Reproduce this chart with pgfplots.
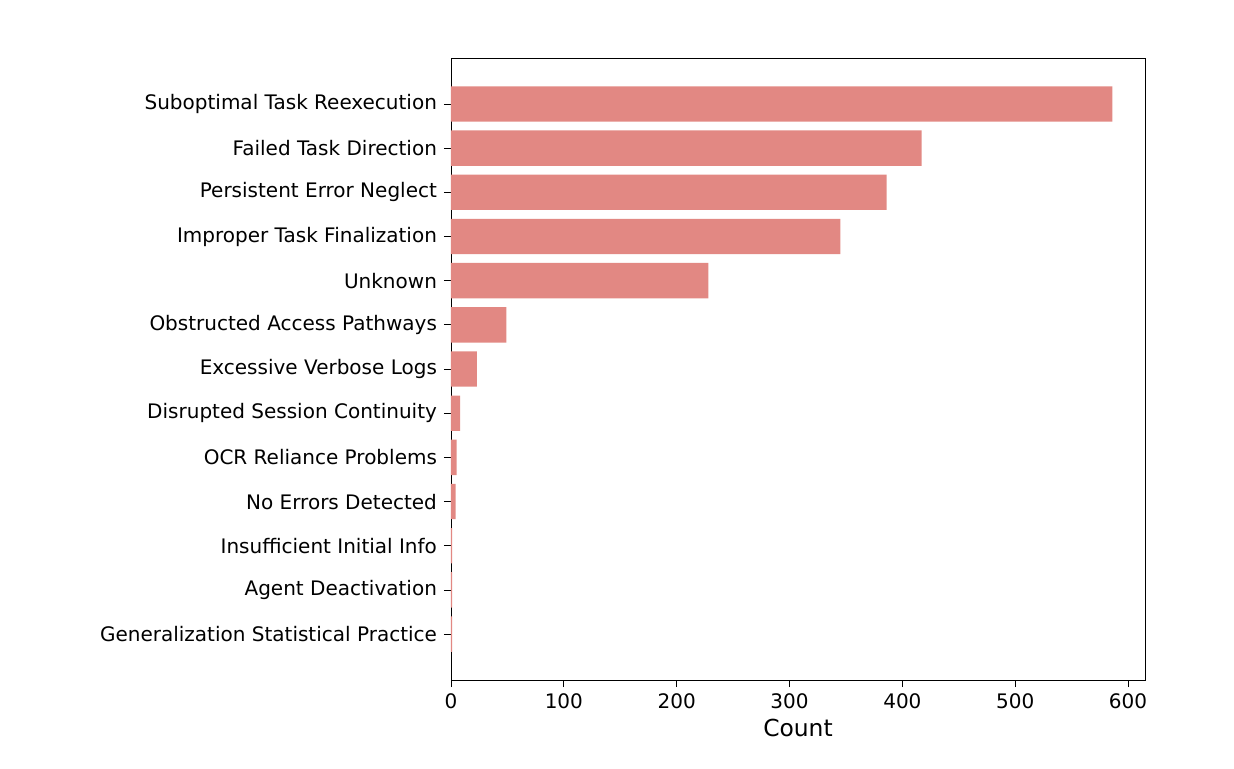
\documentclass[border=0pt]{standalone}
\usepackage{pgfplots}
\pgfplotsset{compat=1.18}
\usepackage{fontspec}
\setmainfont{DejaVu Sans}
\definecolor{barc}{RGB}{226,136,131}
\begin{document}
\begin{tikzpicture}
\begin{axis}[
  scale only axis,
  width=347pt, height=311pt,
  xbar, bar width=0.8,
  xmin=0, xmax=615,
  ymin=-1.04, ymax=13.04,
  y dir=reverse,
  ytick={0,...,12},
  yticklabels={Suboptimal Task Reexecution,Failed Task Direction,Persistent Error Neglect,Improper Task Finalization,Unknown,Obstructed Access Pathways,Excessive Verbose Logs,Disrupted Session Continuity,OCR Reliance Problems,No Errors Detected,Insufficient Initial Info,Agent Deactivation,Generalization Statistical Practice},
  xtick={0,100,...,600},
  tick align=outside,
  xtick pos=bottom, ytick pos=left,
  major tick length=3.5pt,
  tick style={black, line width=0.4pt},
  axis line style={line width=0.4pt},
  ticklabel style={font=\fontsize{10}{11}\selectfont},
  /pgf/number format/assume math mode=true,
  xlabel={Count},
  xlabel style={font=\fontsize{11.7}{12}\selectfont, yshift=2pt},
  clip=false,
]
\addplot[fill=barc, draw=none] coordinates {
(586,0) (417,1) (386,2) (345,3) (228,4) (49,5) (23,6) (8,7) (5,8) (4,9) (1,10) (1,11) (1,12)
};
\end{axis}
\path[use as bounding box] (-225.5pt,-44pt) rectangle (391.5pt,340pt);
\end{tikzpicture}
\end{document}
